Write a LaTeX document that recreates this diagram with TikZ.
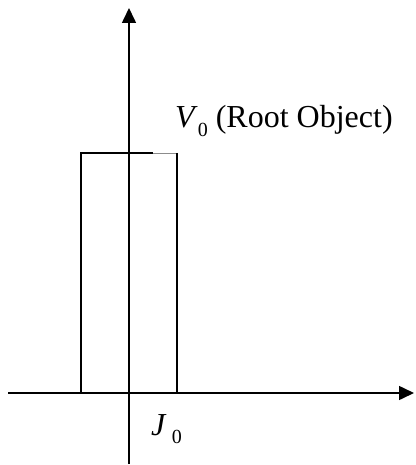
\documentclass[tikz,border=0pt]{standalone}
\usepackage{fontspec}
\setmainfont{Liberation Serif}
\usetikzlibrary{arrows.meta}

\tikzset{
  axis/.style={line width=1.6pt, -{Triangle[length=15pt,width=14pt]}},
  bar/.style={line width=1.3pt},
  lbl/.style={inner sep=0pt, anchor=base west, font=\fontsize{32}{36}\selectfont}
}
\newcommand{\sub}[1]{\raisebox{-0.26em}{\fontsize{20}{22}\selectfont #1}}

\begin{document}
\begin{tikzpicture}[x=1pt, y=-1pt]
  \useasboundingbox (0,0) rectangle (415,465);

  % === Root object bar ===
  \coordinate (barBL) at (81,393);
  \coordinate (barTL) at (81,153);
  \coordinate (barTM) at (153,153);
  \coordinate (barTR) at (177,153);
  \coordinate (barBR) at (177,393);
  \draw[bar] (barBL) -- (barTL) -- (barTM);
  \draw[line width=0.6pt, black!45] (barTM) -- (barTR);
  \draw[bar] (barTR) -- (barBR);

  % === Axes ===
  \coordinate (xstart) at (8,393);
  \coordinate (xend) at (414,393);
  \coordinate (ystart) at (129,464);
  \coordinate (yend) at (129,8);
  \draw[axis] (xstart) -- (xend);
  \draw[axis] (ystart) -- (yend);

  % === Labels ===
  \node[lbl] (vlabel) at (175,128) {\textit{V}\sub{0} (Root Object)};
  \node[lbl] (jlabel) at (151,435) {\textit{J}\,\sub{0}};

\end{tikzpicture}
\end{document}
